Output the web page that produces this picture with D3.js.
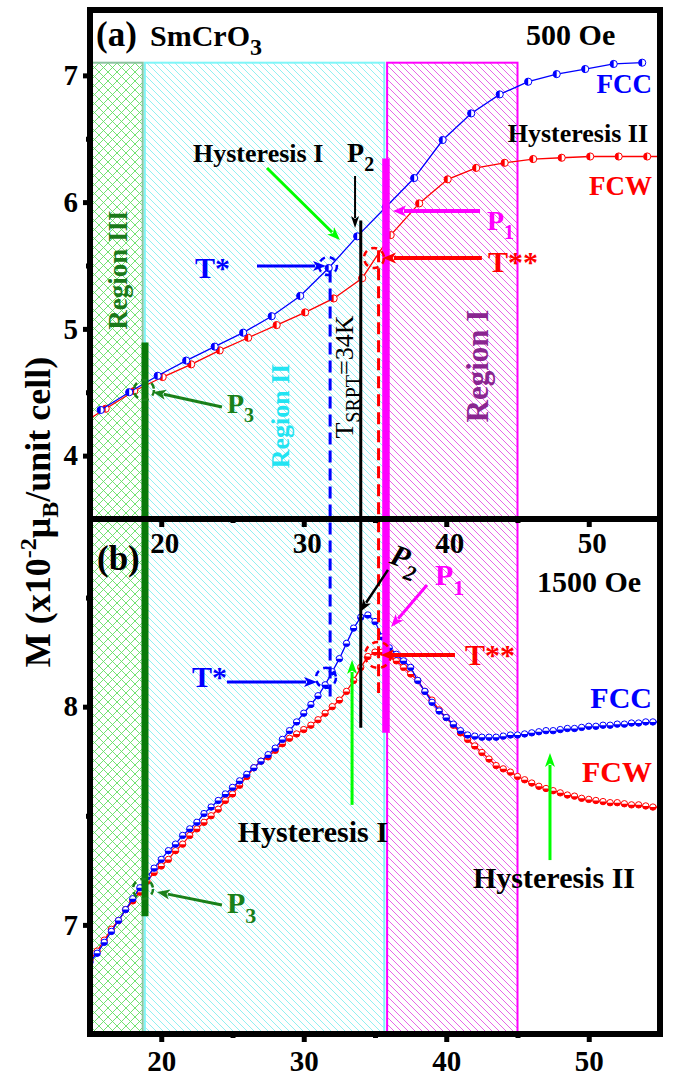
<!DOCTYPE html>
<html>
<head>
<meta charset="utf-8">
<script src="https://cdn.jsdelivr.net/npm/d3@7"></script>
<style>
  body { margin: 0; background: #fff; }
  svg { display: block; font-family: "Liberation Serif", "Times New Roman", serif; }
</style>
</head>
<body>
<svg id="chart" width="677" height="1077"></svg>
<script>
// ---------------- data ----------------
// (a) 500 Oe, field-cooled cooling (FCC) and warming (FCW)
const fccA_T = [15.75,17.75,19.75,21.75,23.75,25.75,27.75,29.75,31.75,33.75,35.75,37.75,39.75,41.75,43.75,45.75,47.75,49.75,51.75,53.75];
const fccA_M = [4.36,4.50,4.63,4.75,4.86,4.97,5.10,5.26,5.48,5.73,5.96,6.19,6.49,6.70,6.85,6.95,7.01,7.05,7.09,7.10];
const fcwA_T = [14.1,16.1,18.1,20.1,22.1,24.1,26.1,28.1,30.1,32.1,34.1,36.1,38.1,40.1,42.1,44.1,46.1,48.1,50.1,52.1,54.1,56.1];
const fcwA_M = [4.23,4.37,4.51,4.62,4.72,4.83,4.93,5.03,5.13,5.24,5.40,5.74,5.99,6.18,6.27,6.31,6.34,6.35,6.36,6.36,6.36,6.36];

// (b) 1500 Oe
const tempB = [15,15.5,16,16.5,17,17.5,18,18.5,19,19.5,20,20.5,21,21.5,22,22.5,23,23.5,24,24.5,
               25,25.5,26,26.5,27,27.5,28,28.5,29,29.5,30,30.5,31,31.5,32,32.5,33,33.5,34,34.5,
               35,35.5,36,36.5,37,37.5,38,38.5,39,39.5,40,40.5,41,41.5,42,42.5,43,43.5,44,44.5,
               45,45.5,46,46.5,47,47.5,48,48.5,49,49.5,50,50.5,51,51.5,52,52.5,53,53.5,54,54.5,55];
const fccB_M = [6.83,6.87,6.92,6.97,7.02,7.07,7.12,7.17,7.22,7.26,
                7.30,7.34,7.37,7.41,7.44,7.47,7.51,7.54,7.57,7.60,
                7.63,7.66,7.69,7.72,7.75,7.78,7.81,7.85,7.89,7.93,
                7.97,8.01,8.05,8.10,8.16,8.22,8.29,8.36,8.41,8.42,
                8.39,8.32,8.27,8.24,8.21,8.18,8.12,8.07,8.02,7.98,
                7.95,7.92,7.89,7.87,7.865,7.86,7.86,7.86,7.865,7.87,
                7.87,7.875,7.88,7.885,7.89,7.89,7.895,7.90,7.90,7.905,
                7.91,7.91,7.915,7.915,7.92,7.92,7.925,7.925,7.93,7.93,7.93];
const fcwB_M = [6.84,6.88,6.93,6.98,7.02,7.07,7.11,7.15,7.20,7.24,
                7.27,7.30,7.34,7.37,7.41,7.44,7.47,7.50,7.53,7.57,
                7.60,7.64,7.68,7.72,7.75,7.77,7.80,7.83,7.855,7.875,
                7.895,7.915,7.94,7.97,8.00,8.03,8.07,8.12,8.18,8.23,
                8.25,8.25,8.24,8.21,8.18,8.15,8.12,8.07,8.03,7.985,
                7.95,7.915,7.88,7.85,7.82,7.79,7.76,7.73,7.715,7.70,
                7.68,7.665,7.65,7.635,7.625,7.615,7.605,7.595,7.59,7.58,
                7.575,7.57,7.565,7.56,7.56,7.555,7.55,7.55,7.545,7.54,7.54];

// temperature regions [from, to] in K
const regionIII = [15, 18.7];
const regionII  = [18.85, 35.65];
const regionI   = [35.85, 45.0];
const regionTop = 7.1;          // top of the shaded regions, panel (a) units

// characteristic temperatures (K)
const tStar = 31.85, tSRPT = 34.0, tStar2 = 35.25, tP1 = 35.77, tP3 = 18.86;

// axis ticks
const xMajor = [20, 30, 40, 50], xMinor = [25, 35, 45];
const yAMajor = [4, 5, 6, 7], yAMinor = [4.5, 5.5, 6.5];
const yBMajor = [7, 8], yBMinor = [7.5, 8.5];

// ---------------- scales ----------------
const x  = d3.scaleLinear().domain([15, 55]).range([90, 660]);
const yA = d3.scaleLinear().domain([3.5, 7.5]).range([519, 12]);
const yB = d3.scaleLinear().domain([6.5, 8.86]).range([1034, 519]);
const pa = (t, m) => [x(t), yA(m)];
const pb = (t, m) => [x(t), yB(m)];

const svg = d3.select('#chart');
const defs = svg.append('defs');

function hatch(id, color, s, cross, w) {
  const p = defs.append('pattern').attr('id', id)
    .attr('patternUnits', 'userSpaceOnUse').attr('width', s).attr('height', s);
  let d = `M0,0L${s},${s}M${-1},${s - 1}L1,${s + 1}M${s - 1},-1L${s + 1},1`;
  if (cross) d += `M0,${s}L${s},0M-1,1L1,-1M${s - 1},${s + 1}L${s + 1},${s - 1}`;
  p.append('path').attr('d', d).attr('stroke', color).attr('stroke-width', w).attr('fill', 'none');
}
hatch('hGreen', '#62e062', 9, true, 0.9);
hatch('hCyan', '#86eef0', 7, false, 0.9);
hatch('hMag', '#e766e7', 7, false, 1.0);

defs.append('clipPath').attr('id', 'clipA').append('rect')
  .attr('x', 90).attr('y', 10).attr('width', 570).attr('height', 509);
defs.append('clipPath').attr('id', 'clipB').append('rect')
  .attr('x', 90).attr('y', 519).attr('width', 570).attr('height', 515);

// ---------------- shaded regions ----------------
const gReg = svg.append('g');
function region(r, fill, stroke) {
  gReg.append('rect')
    .attr('x', x(r[0])).attr('y', yA(regionTop))
    .attr('width', x(r[1]) - x(r[0])).attr('height', yB(6.5) - yA(regionTop))
    .attr('fill', fill).attr('stroke', stroke).attr('stroke-width', 2);
}
region(regionIII, 'url(#hGreen)', '#8cc4a0');
region(regionII, 'url(#hCyan)', '#7ff6f8');
region(regionI, 'url(#hMag)', '#ff00ff');

// ---------------- curves ----------------
function series(clip, ts, ms, xs, ys, color, r, half) {
  const g = svg.append('g').attr('clip-path', `url(#${clip})`);
  const pts = ts.map((t, i) => [xs(t), ys(ms[i])]);
  g.append('path').attr('d', d3.line()(pts))
    .attr('fill', 'none').attr('stroke', color).attr('stroke-width', 1.3);
  const halfPath = half === 'left'
    ? `M0,${-r}A${r},${r} 0 0 0 0,${r}Z`
    : `M${-r},0A${r},${r} 0 0 0 ${r},0Z`;
  const m = g.selectAll('g.pt').data(pts).join('g').attr('class', 'pt')
    .attr('transform', d => `translate(${d[0]},${d[1]})`);
  m.append('circle').attr('r', r).attr('fill', '#fff').attr('stroke', color).attr('stroke-width', 1);
  m.append('path').attr('d', halfPath).attr('fill', color);
}
series('clipA', fcwA_T, fcwA_M, x, yA, '#ff0000', 3.6, 'left');
series('clipA', fccA_T, fccA_M, x, yA, '#0000ff', 3.6, 'left');
series('clipB', tempB, fcwB_M, x, yB, '#ff0000', 3.2, 'bottom');
series('clipB', tempB, fccB_M, x, yB, '#0000ff', 3.2, 'bottom');

// ---------------- vertical markers ----------------
const gV = svg.append('g');
function vline(t, mTop, mBot, color, w, dash) {
  gV.append('line').attr('x1', x(t)).attr('x2', x(t))
    .attr('y1', yA(mTop)).attr('y2', yB(mBot))
    .attr('stroke', color).attr('stroke-width', w)
    .attr('stroke-dasharray', dash || null);
}
vline(tStar, 5.46, 8.045, '#0000ff', 3, '12,6');
vline(tSRPT, 5.856, 7.903, '#000000', 3);
vline(tStar2, 5.62, 8.063, '#ff0000', 3, '12,6');
vline(tP1, 6.345, 7.88, '#ff00ff', 7.5);
vline(tP3, 4.893, 7.04, '#0a7a0a', 7);

// ---------------- annotations ----------------
const gAnn = svg.append('g');
function arrow(p1, p2, color, w, hl, hw) {
  const dx = p2[0] - p1[0], dy = p2[1] - p1[1], L = Math.hypot(dx, dy);
  const ux = dx / L, uy = dy / L;
  const bx = p2[0] - ux * hl, by = p2[1] - uy * hl;
  gAnn.append('line').attr('x1', p1[0]).attr('y1', p1[1])
    .attr('x2', bx + ux * 2).attr('y2', by + uy * 2)
    .attr('stroke', color).attr('stroke-width', w);
  gAnn.append('path')
    .attr('d', `M${p2[0]},${p2[1]}L${bx - uy * hw / 2},${by + ux * hw / 2}L${bx + ux * hl * 0.25},${by + uy * hl * 0.25}L${bx + uy * hw / 2},${by - ux * hw / 2}Z`)
    .attr('fill', color);
}
function ring(p, r, color) {
  gAnn.append('circle').attr('cx', p[0]).attr('cy', p[1]).attr('r', r)
    .attr('fill', 'none').attr('stroke', color).attr('stroke-width', 2.5)
    .attr('stroke-dasharray', '6,5');
}
// parts: [text, 'sub'|'sup'|null]
function label(p, parts, o) {
  const fs = o.size || 28;
  const t = gAnn.append('text')
    .attr('transform', `translate(${p[0]},${p[1]})` + (o.rotate ? ` rotate(${o.rotate})` : ''))
    .attr('font-size', fs).attr('font-weight', o.weight || 'bold')
    .attr('font-style', o.italic ? 'italic' : null)
    .attr('fill', o.color || '#000').attr('text-anchor', o.anchor || 'start');
  let shift = 0;
  parts.forEach(([s, kind]) => {
    const ts = t.append('tspan').text(s);
    let target = 0;
    if (kind === 'sub') { ts.attr('font-size', o.subSize || fs * 0.72); target = o.subOff || fs * 0.3; }
    if (kind === 'sup') { ts.attr('font-size', o.subSize || fs * 0.72); target = -(o.supOff || fs * 0.4); }
    if (target - shift !== 0) ts.attr('dy', target - shift);
    shift = target;
  });
  return t;
}

// panel (a)
label(pa(15.42, 7.232), [['(a)']], { size: 35 });
label(pa(19.21, 7.232), [['SmCrO'], ['3', 'sub']], { size: 30, subSize: 24, subOff: 9 });
label(pa(45.6, 7.24), [['500 Oe']], { size: 30 });
label(pa(54.44, 6.861), [['FCC']], { size: 27, color: '#0000ff', anchor: 'end' });
label(pa(54.16, 6.474), [['Hysteresis II']], { size: 26, anchor: 'end' });
label(pa(54.44, 6.056), [['FCW']], { size: 27, color: '#ff0000', anchor: 'end' });
label(pa(22.23, 6.317), [['Hysteresis I']], { size: 26 });
arrow(pa(27.42, 6.269), pa(32.54, 5.701), '#00ff00', 3, 13, 10);
label(pa(33.04, 6.317), [['P'], ['2', 'sub']], { size: 28, subSize: 20, subOff: 9 });
arrow(pa(33.6, 6.206), pa(33.6, 5.796), '#000000', 2, 12, 8);
label(pa(42.86, 5.78), [['P'], ['1', 'sub']], { size: 28, subSize: 20, subOff: 9, color: '#ff00ff' });
arrow(pa(42.37, 5.93), pa(36.26, 5.93), '#ff00ff', 4, 13, 11);
label(pa(42.93, 5.449), [['T**']], { size: 30, color: '#ff0000' });
arrow(pa(42.5, 5.559), pa(35.56, 5.559), '#ff0000', 4, 13, 11);
label(pa(22.37, 5.401), [['T*']], { size: 30, color: '#0000ff' });
arrow(pa(26.72, 5.496), pa(31.56, 5.496), '#0000ff', 3, 13, 10);
ring(pa(31.7, 5.496), 9, '#0000ff');
ring(pa(34.93, 5.559), 10, '#ff0000');
label(pa(24.61, 4.336), [['P'], ['3', 'sub']], { size: 28, subSize: 20, subOff: 9, color: '#1a801a' });
arrow(pa(24.26, 4.384), pa(19.42, 4.502), '#1a801a', 3, 13, 10);
ring(pa(18.79, 4.518), 10, '#1a801a');
label(pa(17.6, 5.464), [['Region III']], { size: 27, color: '#1a7a1a', anchor: 'middle', rotate: -90 });
label(pa(28.96, 4.313), [['Region II']], { size: 26, color: '#22e4f2', anchor: 'middle', rotate: -90 });
label(pa(42.93, 4.707), [['Region I']], { size: 31, color: '#8a2590', anchor: 'middle', rotate: -90 });
label(pa(33.46, 4.62), [['T'], ['SRPT', 'sub'], ['=34K']],
      { size: 26, subSize: 20, subOff: 7, weight: 'normal', anchor: 'middle', rotate: -90 });

// panel (b)
label(pb(15.49, 8.627), [['(b)']], { size: 35 });
label(pb(46.37, 8.526), [['1500 Oe']], { size: 30 });
label(pb(54.44, 7.994), [['FCC']], { size: 30, color: '#0000ff', anchor: 'end' });
label(pb(54.44, 7.655), [['FCW']], { size: 30, color: '#ff0000', anchor: 'end' });
label(pb(35.91, 7.38), [['Hysteresis I']], { size: 30, anchor: 'end' });
arrow(pb(33.39, 7.55), pb(33.39, 8.214), '#00ff00', 3, 14, 10);
label(pb(41.88, 7.169), [['Hysteresis II']], { size: 30 });
arrow(pb(47.28, 7.297), pb(47.28, 7.788), '#00ff00', 3, 14, 10);
label(pb(24.61, 7.055), [['P'], ['3', 'sub']], { size: 30, subSize: 22, subOff: 10, color: '#1a801a' });
arrow(pb(24.26, 7.091), pb(19.7, 7.151), '#1a801a', 3, 13, 10);
ring(pb(18.72, 7.165), 10, '#1a801a');
label(pb(22.16, 8.09), [['T*']], { size: 30, color: '#0000ff' });
arrow(pb(24.61, 8.113), pb(30.93, 8.113), '#0000ff', 3, 13, 10);
ring(pb(31.56, 8.132), 10, '#0000ff');
label(pb(41.32, 8.191), [['T**']], { size: 30, color: '#ff0000' });
arrow(pb(40.61, 8.237), pb(35.42, 8.237), '#ff0000', 4, 13, 11);
ring(pb(35.21, 8.237), 13, '#ff0000');
label(pb(39.21, 8.558), [['P'], ['1', 'sub']], { size: 30, subSize: 22, subOff: 10, color: '#ff00ff' });
arrow(pb(38.65, 8.558), pb(36.12, 8.365), '#ff00ff', 3, 13, 10);
label(pb(35.95, 8.66), [['P'], ['2', 'sub']], { size: 30, subSize: 22, subOff: 10, italic: true, rotate: 20 });
arrow(pb(35.91, 8.627), pb(33.95, 8.434), '#000000', 2.5, 13, 9);

// ---------------- axes & frame ----------------
function styleAxis(g, fs) {
  g.select('.domain').remove();
  g.selectAll('.tick line').attr('stroke', '#000').attr('stroke-width', 5);
  g.selectAll('.tick text').attr('font-size', fs).attr('font-weight', 'bold')
    .attr('fill', '#000').attr('font-family', '"Liberation Serif", "Times New Roman", serif');
}
const fmt = d3.format('d');
styleAxis(svg.append('g').attr('transform', 'translate(90,0)')
  .call(d3.axisLeft(yA).tickValues(yAMajor).tickSize(7).tickPadding(5).tickFormat(fmt)), 29);
styleAxis(svg.append('g').attr('transform', 'translate(90,0)')
  .call(d3.axisLeft(yA).tickValues(yAMinor).tickSize(4).tickFormat('')), 29);
styleAxis(svg.append('g').attr('transform', 'translate(90,0)')
  .call(d3.axisLeft(yB).tickValues(yBMajor).tickSize(7).tickPadding(5).tickFormat(fmt)), 29);
styleAxis(svg.append('g').attr('transform', 'translate(90,0)')
  .call(d3.axisLeft(yB).tickValues(yBMinor).tickSize(4).tickFormat('')), 29);

const xMid = svg.append('g').attr('transform', 'translate(0,519)')
  .call(d3.axisBottom(x).tickValues(xMajor).tickSize(8).tickPadding(5).tickFormat(fmt));
styleAxis(xMid, 29);
xMid.selectAll('.tick text').attr('dx', 3);
styleAxis(svg.append('g').attr('transform', 'translate(0,519)')
  .call(d3.axisBottom(x).tickValues(xMinor).tickSize(4).tickFormat('')), 29);
styleAxis(svg.append('g').attr('transform', 'translate(0,1034)')
  .call(d3.axisBottom(x).tickValues(xMajor).tickSize(8).tickPadding(8).tickFormat(fmt)), 29);
styleAxis(svg.append('g').attr('transform', 'translate(0,1034)')
  .call(d3.axisBottom(x).tickValues(xMinor).tickSize(4).tickFormat('')), 29);

const frame = svg.append('g').attr('stroke', '#000').attr('stroke-width', 6);
frame.append('line').attr('x1', 90).attr('x2', 90).attr('y1', 7).attr('y2', 1037);
frame.append('line').attr('x1', 660).attr('x2', 660).attr('y1', 7).attr('y2', 1037);
frame.append('line').attr('x1', 87).attr('x2', 663).attr('y1', 10).attr('y2', 10);
frame.append('line').attr('x1', 87).attr('x2', 663).attr('y1', 519).attr('y2', 519);
frame.append('line').attr('x1', 87).attr('x2', 663).attr('y1', 1034).attr('y2', 1034);

// y-axis title
const yt = svg.append('text')
  .attr('transform', 'translate(50,512) rotate(-90)')
  .attr('text-anchor', 'middle').attr('font-size', 36).attr('font-weight', 'bold');
yt.append('tspan').text('M (x10');
yt.append('tspan').text('-2').attr('font-size', 24).attr('dy', -14);
yt.append('tspan').text('μ').attr('dy', 14);
yt.append('tspan').text('B').attr('font-size', 24).attr('dy', 8);
yt.append('tspan').text('/unit cell)').attr('dy', -8);
</script>
</body>
</html>
